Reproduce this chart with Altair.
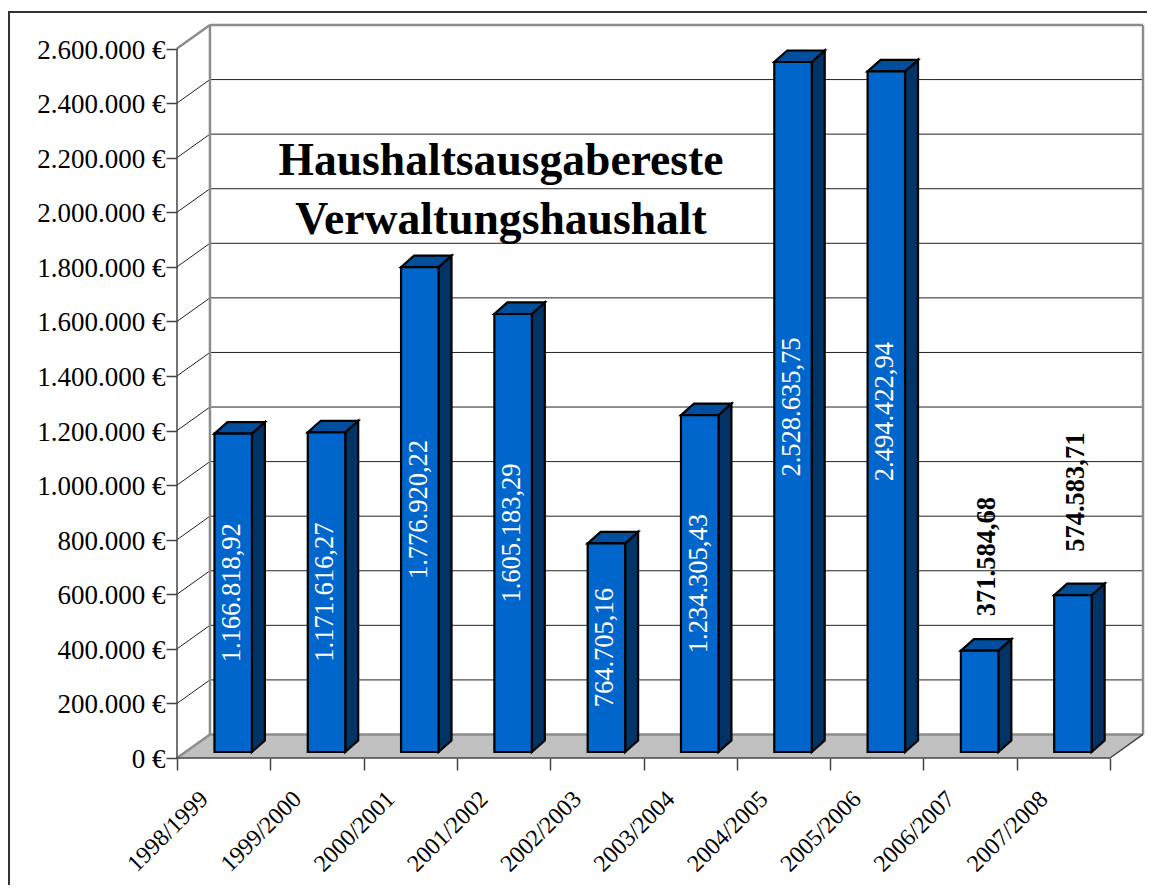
import json
import altair as alt
import pandas as pd

categories = ["1998/1999", "1999/2000", "2000/2001", "2001/2002", "2002/2003",
              "2003/2004", "2004/2005", "2005/2006", "2006/2007", "2007/2008"]
values = [1166818.92, 1171616.27, 1776920.22, 1605183.29, 764705.16,
          1234305.43, 2528635.75, 2494422.94, 371584.68, 574583.71]
value_labels = ["1.166.818,92", "1.171.616,27", "1.776.920,22", "1.605.183,29", "764.705,16",
                "1.234.305,43", "2.528.635,75", "2.494.422,94", "371.584,68", "574.583,71"]
y_ticks = list(range(0, 2600001, 200000))
title_lines = ["Haushaltsausgabereste", "Verwaltungshaushalt"]

# pixel-to-data conversion of the pseudo 3D box
PX_X = 93.4
PX_Y = 709 / 2600000
WALL_X = 33 / PX_X
WALL_Y = 23.5 / PX_Y
BAR_DX = 13 / PX_X
BAR_DY = 11.5 / PX_Y
BAR_LEFT = 37.5 / PX_X
BAR_RIGHT = 75 / PX_X
BAR_LIFT = 6 / PX_Y
N = len(categories)
XMAX = N + WALL_X
YMAX = 2600000 + WALL_Y
TOP = YMAX

xs = alt.Scale(domain=[0, XMAX], nice=False, zero=False)
ys = alt.Scale(domain=[0, YMAX], nice=False, zero=False)

labels_js = json.dumps(categories)
x_axis = alt.Axis(values=list(range(N + 1)), labelExpr=f"{labels_js}[datum.value] || ''", title=None, grid=False,
                  domain=False, ticks=True, tickSize=12, tickColor="#444444", tickWidth=1.5,
                  labelAngle=315, labelAlign="right", labelBaseline="middle", labelOffset=27, labelPadding=25,
                  labelFont="Liberation Serif", labelFontSize=24, labelColor="black", labelOverlap=False,
                  labelBound=False, labelFlush=False)
y_axis = alt.Axis(values=y_ticks, labelExpr="replace(format(datum.value, ','), /,/g, '.') + ' €'", title=None, grid=False,
                  domain=False, ticks=True, tickSize=11, tickColor="#444444", tickWidth=1.5, labelPadding=1,
                  labelOffset=1.5, labelFont="Liberation Serif", labelFontSize=27, labelColor="black", labelOverlap=False,
                  labelBound=False, labelFlush=False)


def X(f="x:Q"):
    return alt.X(f, scale=xs, axis=x_axis)


def Y(f="y:Q"):
    return alt.Y(f, scale=ys, axis=y_axis)


def rules(df, color, width):
    return alt.Chart(df).mark_rule(color=color, strokeWidth=width).encode(
        x=X(), x2="x2:Q", y=Y(), y2="y2:Q")


def faces(df, color):
    return alt.Chart(df).mark_area(color=color, stroke="black", strokeWidth=2.2, strokeJoin="miter", opacity=1).encode(
        x=X(), y=Y(), y2="y2:Q", detail="bar:N")


# floor
floor_df = pd.DataFrame({"x": [0, WALL_X, N, N + WALL_X], "y": [0, 0, 0, WALL_Y], "y2": [0, WALL_Y, WALL_Y, WALL_Y]})
floor = alt.Chart(floor_df).mark_area(color="#c0c0c0").encode(x=X(), y=Y(), y2="y2:Q")

# grid lines on back wall and side wall
grid_df = pd.DataFrame([{"x": WALL_X, "x2": N + WALL_X, "y": v + WALL_Y, "y2": v + WALL_Y} for v in y_ticks[1:-1]])
side_df = pd.DataFrame([{"x": 0, "x2": WALL_X, "y": v, "y2": v + WALL_Y} for v in y_ticks[1:-1]])
frame_df = pd.DataFrame([
    {"x": WALL_X, "x2": N + WALL_X, "y": TOP, "y2": TOP},
    {"x": WALL_X, "x2": WALL_X, "y": WALL_Y, "y2": TOP},
    {"x": N + WALL_X, "x2": N + WALL_X, "y": WALL_Y, "y2": TOP},
    {"x": 0, "x2": WALL_X, "y": 2600000, "y2": TOP},
    {"x": 0, "x2": WALL_X, "y": 0, "y2": WALL_Y},
    {"x": WALL_X, "x2": N + WALL_X, "y": WALL_Y, "y2": WALL_Y},
])
axis_df = pd.DataFrame([
    {"x": 0, "x2": 0, "y": 0, "y2": 2600000},
    {"x": 0, "x2": N, "y": 0, "y2": 0},
    {"x": N, "x2": N + WALL_X, "y": 0, "y2": WALL_Y},
])

# bars
front_rows, side_rows, top_rows = [], [], []
for i, v in enumerate(values):
    x0, x1 = i + BAR_LEFT, i + BAR_RIGHT
    b, t = BAR_LIFT, v + BAR_LIFT
    front_rows.append({"x": x0, "x2": x1, "y": b, "y2": t})
    side_rows += [{"bar": i, "x": x1, "y": b, "y2": t},
                  {"bar": i, "x": x1 + BAR_DX, "y": b + BAR_DY, "y2": t + BAR_DY}]
    top_rows += [{"bar": i, "x": x0, "y": t, "y2": t},
                 {"bar": i, "x": x0 + BAR_DX, "y": t, "y2": t + BAR_DY},
                 {"bar": i, "x": x1, "y": t, "y2": t + BAR_DY},
                 {"bar": i, "x": x1 + BAR_DX, "y": t + BAR_DY, "y2": t + BAR_DY}]

side_faces = faces(pd.DataFrame(side_rows), "#003366")
top_faces = faces(pd.DataFrame(top_rows), "#004F9F")
front = alt.Chart(pd.DataFrame(front_rows)).mark_rect(color="#0066CC", stroke="black", strokeWidth=2.2).encode(
    x=X(), x2="x2:Q", y=Y(), y2="y2:Q")

# value labels
text_df = pd.DataFrame({
    "x": [i + (BAR_LEFT + BAR_RIGHT) / 2 for i in range(N)],
    "y": [v / 2 + BAR_LIFT for v in values],
    "top": [v + BAR_LIFT for v in values],
    "t": value_labels,
})
inside = alt.Chart(text_df.iloc[:8]).mark_text(
    angle=270, color="white", font="Liberation Serif", fontSize=26.5, baseline="middle", align="center", dy=-1).encode(
    x=X(), y=Y(), text="t:N")


def above(i, up, right):
    return alt.Chart(text_df.iloc[[i]]).mark_text(
        angle=270, color="black", font="Liberation Serif", fontWeight="bold", fontSize=26.5,
        baseline="middle", align="center", dx=up, dy=right).encode(
        x=X(), y=Y("top:Q"), text="t:N")


# outer border
border_left = alt.Chart(pd.DataFrame({"x": [0]})).mark_rule(color="#333333", strokeWidth=2).encode(
    x=alt.value(-168), y=alt.value(-13), y2=alt.value(880))
border_top = alt.Chart(pd.DataFrame({"x": [0]})).mark_rule(color="#333333", strokeWidth=2).encode(
    y=alt.value(-13), x=alt.value(-169), x2=alt.value(990))

chart = alt.layer(
    floor,
    rules(grid_df, "#222222", 1),
    rules(side_df, "#222222", 1),
    rules(frame_df, "#8c8c8c", 2.5),
    rules(axis_df, "#444444", 1.5),
    side_faces, top_faces, front,
    inside, above(8, 94, 7), above(9, 103, 3),
    border_left, border_top,
).properties(
    width=966, height=733,
    padding={"left": 169, "top": 17, "right": 4, "bottom": 127},
    autosize=alt.AutoSizeParams(type="none"),
    title=alt.TitleParams(text=title_lines, font="Liberation Serif", fontSize=45.6, fontWeight="bold", color="black",
                          anchor="middle", frame="group", align="center", lineHeight=59, orient="top",
                          offset=0, dx=-159, dy=233),
).configure_view(stroke=None)

chart.save("out.html", embed_options={"renderer": "svg", "actions": False})
